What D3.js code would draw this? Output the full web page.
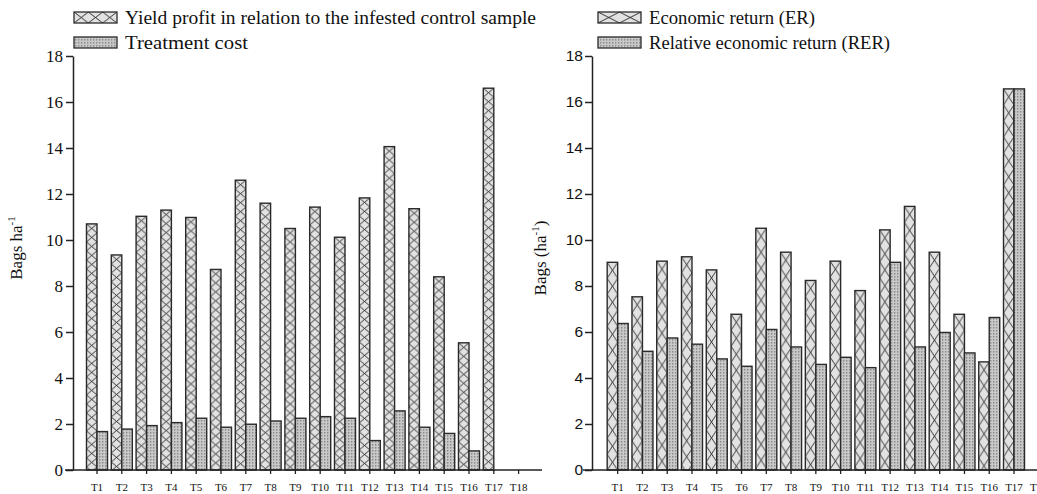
<!DOCTYPE html>
<html><head><meta charset="utf-8">
<script src="https://cdn.jsdelivr.net/npm/d3@7"></script>
<style>body{margin:0;background:#fff}svg{display:block}</style>
</head><body>
<script>
const categories = ["T1","T2","T3","T4","T5","T6","T7","T8","T9","T10","T11","T12","T13","T14","T15","T16","T17","T18"];
const yieldProfit = [10.7,9.35,11.03,11.3,10.98,8.72,12.6,11.6,10.5,11.43,10.12,11.83,14.06,11.36,8.4,5.53,16.6,null];
const treatmentCost = [1.67,1.78,1.93,2.06,2.25,1.86,1.99,2.13,2.25,2.32,2.25,1.28,2.57,1.86,1.59,0.83,null,null];
const economicReturn = [9.03,7.53,9.08,9.27,8.7,6.77,10.51,9.47,8.24,9.08,7.8,10.44,11.46,9.47,6.77,4.7,16.57,null];
const relEconomicReturn = [6.37,5.16,5.74,5.47,4.83,4.51,6.11,5.35,4.59,4.9,4.45,9.03,5.35,5.98,5.09,6.63,16.57,null];
const yTicks = [0,2,4,6,8,10,12,14,16,18];
const leftLegend = ["Yield profit in relation to the infested control sample","Treatment cost"];
const rightLegend = ["Economic return (ER)","Relative economic return (RER)"];

const W = 1037, H = 494;
const svg = d3.select("body").append("svg").attr("width", W).attr("height", H);
const defs = svg.append("defs");
const SERIF = "'Liberation Serif','Times New Roman',serif";
const SANS = "'Liberation Sans',Arial,sans-serif";

// dotted pattern
const dot = defs.append("pattern").attr("id","dots").attr("patternUnits","userSpaceOnUse")
  .attr("width",3).attr("height",3);
dot.append("rect").attr("width",3).attr("height",3).attr("fill","#c9c9c9");
dot.append("circle").attr("cx",0.8).attr("cy",0.8).attr("r",0.6).attr("fill","#444");

function xPattern(id, x, y, w, h) {
  const p = defs.append("pattern").attr("id", id).attr("patternUnits","userSpaceOnUse")
    .attr("x", x).attr("y", y).attr("width", w).attr("height", h);
  p.append("rect").attr("width", w).attr("height", h).attr("fill","#e2e2e2");
  p.append("path").attr("d", `M0,0L${w},${h}M${w},0L0,${h}`)
    .attr("stroke","#222").attr("stroke-width",0.9).attr("fill","none");
  return `url(#${id})`;
}

const y = d3.scaleLinear().domain([0,18]).range([470,56]);

function panel(opts) {
  const g = svg.append("g");
  const x = d3.scaleBand().domain(categories).range(opts.xRange).paddingInner(0).paddingOuter(0);
  const bw = x.bandwidth() * 0.424;
  const c = d => x(d) + x.bandwidth()/2;

  categories.forEach((cat, i) => {
    const v = opts.a[i];
    if (v == null) return;
    const x0 = c(cat) - bw;
    const fill = xPattern(`${opts.id}a${i}`, x0, y(v), bw, opts.cellH);
    g.append("rect").attr("x", x0).attr("y", y(v)).attr("width", bw).attr("height", y(0)-y(v))
      .attr("fill", fill).attr("stroke","#2a2a2a").attr("stroke-width",1.4);
  });
  g.selectAll("rect.b").data(categories.map((cat,i)=>({cat, v: opts.b[i]})).filter(d=>d.v!=null))
    .join("rect").attr("class","b")
    .attr("x", d => c(d.cat)).attr("y", d => y(d.v)).attr("width", bw).attr("height", d => y(0)-y(d.v))
    .attr("fill","url(#dots)").attr("stroke","#2a2a2a").attr("stroke-width",1.4);

  const ya = g.append("g").attr("transform",`translate(${opts.yAxisX},0)`)
    .call(d3.axisLeft(y).tickValues(yTicks).tickSize(7).tickSizeOuter(0).tickPadding(opts.yPad));
  ya.attr("font-family", opts.yFont).attr("font-size", opts.yFontSize);
  ya.select(".domain").attr("stroke","#222").attr("stroke-width",1.5);
  ya.selectAll(".tick line").attr("stroke","#222").attr("stroke-width",1.5);
  ya.selectAll(".tick text").style("font-family", opts.yFont).style("font-size", opts.yFontSize + "px").attr("fill","#111");

  const xa = g.append("g").attr("transform","translate(0,470)")
    .call(d3.axisBottom(x).tickSize(4).tickSizeOuter(0).tickPadding(9));
  xa.attr("font-family", SERIF);
  xa.select(".domain").remove();
  xa.selectAll(".tick line").attr("stroke","#222").attr("stroke-width",1.3);
  xa.selectAll(".tick text").style("font-family", SERIF).style("font-size","11px").attr("fill","#111");
  g.append("line").attr("x1", opts.xLine[0]).attr("x2", opts.xLine[1]).attr("y1",470).attr("y2",470)
    .attr("stroke","#222").attr("stroke-width",1.5);

  const lab = g.append("text").attr("transform",`translate(${opts.labX},${opts.labY}) rotate(-90)`)
    .attr("text-anchor","middle").style("font-family", SERIF).style("font-size","17px").attr("fill","#111");
  lab.append("tspan").text(opts.labA);
  lab.append("tspan").style("font-size","11px").attr("dy",-7).text("-1");
  if (opts.labB) lab.append("tspan").attr("dy",7).text(opts.labB);

  opts.legend.forEach((t, i) => {
    const ly = opts.legY[i];
    const fill = i === 0 ? xPattern(`${opts.id}leg`, opts.legX, ly, opts.legCellW, 11) : "url(#dots)";
    g.append("rect").attr("x", opts.legX).attr("y", ly).attr("width", 43).attr("height", 11)
      .attr("fill", fill).attr("stroke","#2a2a2a").attr("stroke-width",1.3);
    g.append("text").attr("x", opts.legX + 51).attr("y", ly + 11.5).style("font-family", SERIF)
      .style("font-size", "18px").attr("fill","#111")
      .attr("textLength", opts.legLen[i]).attr("lengthAdjust","spacingAndGlyphs").text(t);
  });
}

panel({id:"L", xRange:[84.6, 84.6+18*24.8], a:yieldProfit, b:treatmentCost, cellH:9,
  yAxisX:73, yPad:3, yFont:SERIF, yFontSize:17, xLine:[65,542],
  labX:22, labY:248, labA:"Bags ha", labB:null,
  legend:leftLegend, legX:74, legY:[12,37], legCellW:14.33, legLen:[411,123]});

panel({id:"R", xRange:[605.3, 605.3+18*24.77], a:economicReturn, b:relEconomicReturn, cellH:16,
  yAxisX:592, yPad:2, yFont:SANS, yFontSize:15.5, xLine:[583,1037],
  labX:546, labY:258, labA:"Bags (ha", labB:")",
  legend:rightLegend, legX:598, legY:[12,37], legCellW:21.5, legLen:[166,241]});
</script>
</body></html>
